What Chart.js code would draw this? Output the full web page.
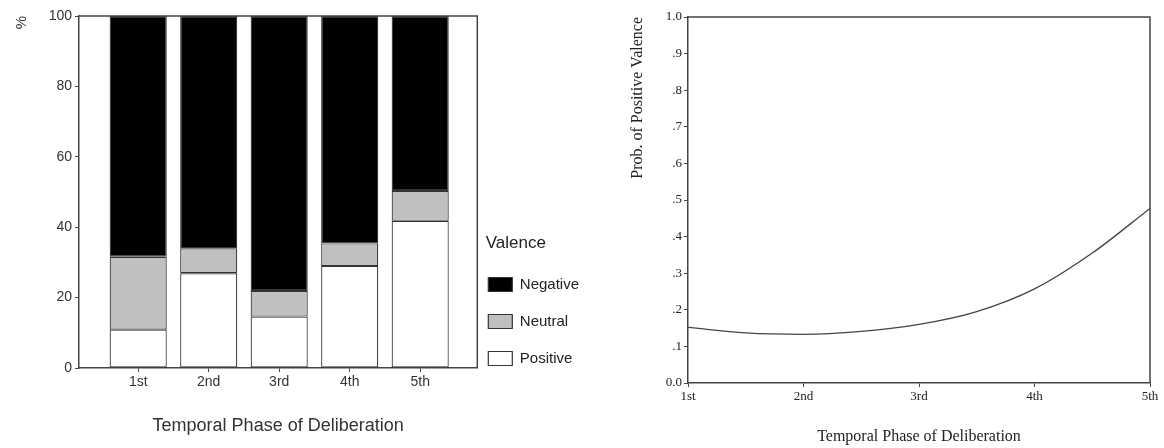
<!DOCTYPE html>
<html><head><meta charset="utf-8">
<script src="https://cdn.jsdelivr.net/npm/chart.js@4.4.0/dist/chart.umd.min.js"></script>
<style>
html,body{margin:0;padding:0;background:#fff;}
#wrap{position:relative;width:1164px;height:448px;overflow:hidden;}
#left{position:absolute;left:0;top:0;width:600px;height:448px;}
#right{position:absolute;left:600px;top:0;width:564px;height:448px;}
</style></head><body>
<div id="wrap"><div id="left"><canvas id="c1"></canvas></div><div id="right"><canvas id="c2"></canvas></div></div>
<script>
// ---- data ----
const categories = ['1st', '2nd', '3rd', '4th', '5th'];
const positive = [10.9, 26.9, 14.6, 29.0, 41.8];
const neutral  = [20.7, 7.1, 7.3, 6.4, 8.5];
const negative = [68.4, 66.0, 78.1, 64.6, 49.7];
const pctTicks = [0, 20, 40, 60, 80, 100];

const phaseX = [1, 1.5, 2, 2.5, 3, 3.5, 4, 4.5, 5];
const probPositive = [0.152, 0.137, 0.133, 0.141, 0.160, 0.195, 0.257, 0.355, 0.477];
const probTickLabels = ['0.0', '.1', '.2', '.3', '.4', '.5', '.6', '.7', '.8', '.9', '1.0'];

// ---- styles ----
const AX = '#444';
const sans = '"Liberation Sans", Arial, sans-serif';
const serif = '"Liberation Serif", "Times New Roman", serif';

const framePlugin = {
  id: 'frame',
  afterDatasetsDraw(chart) {
    const a = chart.chartArea, ctx = chart.ctx;
    ctx.save();
    ctx.strokeStyle = AX; ctx.lineWidth = 1.5;
    ctx.beginPath();
    ctx.moveTo(a.left, a.top); ctx.lineTo(a.right, a.top); ctx.lineTo(a.right, a.bottom);
    ctx.stroke();
    ctx.restore();
  }
};

const legendPlace = {
  id: 'legendPlace',
  afterLayout(chart) {
    const l = chart.legend; if (!l) return;
    const a = chart.chartArea;
    const newBottom = a.bottom + 20;
    const shift = newBottom - l.bottom;
    l.top += shift; l.bottom += shift;
    l.left = a.right - 11; l.width = 99; l.right = chart.width;
  }
};

const mk = (arr) => arr.map((v, i) => ({x: i, y: v}));

new Chart(document.getElementById('c1'), {
  type: 'bar',
  data: {
    datasets: [
      {label: 'Positive', data: mk(positive), backgroundColor: '#ffffff', borderColor: '#333', borderWidth: 1.2, borderSkipped: false},
      {label: 'Neutral',  data: mk(neutral),  backgroundColor: '#c0c0c0', borderColor: '#333', borderWidth: 1.2, borderSkipped: false},
      {label: 'Negative', data: mk(negative), backgroundColor: '#000000', borderColor: '#333', borderWidth: 1.2, borderSkipped: false}
    ]
  },
  options: {
    responsive: true, maintainAspectRatio: false, animation: false, devicePixelRatio: 1,
    categoryPercentage: 0.9, barPercentage: 0.9,
    layout: {padding: {top: 16, left: 0, right: 0, bottom: 0}},
    scales: {
      x: {
        type: 'linear', stacked: true, offset: false, min: -0.84, max: 4.81,
        afterBuildTicks: s => { s.ticks = categories.map((c, i) => ({value: i})); },
        afterFit: s => { s.height = 80; },
        grid: {display: true, drawOnChartArea: false, drawTicks: true, tickLength: 4, color: AX, offset: false},
        border: {display: true, color: AX, width: 1.5},
        ticks: {callback: (v) => categories[v], font: {family: sans, size: 14}, color: '#333', padding: 2, maxRotation: 0, autoSkip: false},
        title: {display: true, text: 'Temporal Phase of Deliberation', font: {family: sans, size: 18}, color: '#333', padding: {top: 0, bottom: 11}}
      },
      y: {
        stacked: true, min: 0, max: 100,
        afterBuildTicks: s => { s.ticks = pctTicks.map(v => ({value: v})); },
        afterFit: s => { s.width = 79; },
        grid: {display: true, drawOnChartArea: false, drawTicks: true, tickLength: 4, color: AX},
        border: {display: true, color: AX, width: 1.5},
        ticks: {font: {family: sans, size: 14}, color: '#333', padding: 3},
        title: {display: true, text: '%', align: 'end', font: {family: sans, size: 15}, color: '#333', padding: {top: 13, bottom: 0}}
      }
    },
    plugins: {
      legend: {
        position: 'right', align: 'end', reverse: true,
        title: {display: true, text: 'Valence', position: 'center', font: {family: sans, size: 17}, color: '#222', padding: 0},
        labels: {boxWidth: 24, boxHeight: 14, padding: 22, font: {family: sans, size: 15}, color: '#222'}
      },
      tooltip: {enabled: false}
    }
  },
  plugins: [framePlugin, legendPlace]
});

new Chart(document.getElementById('c2'), {
  type: 'line',
  data: {
    datasets: [{
      label: 'Prob. of Positive Valence',
      data: phaseX.map((x, i) => ({x: x, y: probPositive[i]})),
      borderColor: '#444', borderWidth: 1.3, pointRadius: 0, fill: false,
      cubicInterpolationMode: 'monotone'
    }]
  },
  options: {
    responsive: true, maintainAspectRatio: false, animation: false, devicePixelRatio: 1,
    layout: {padding: {top: 17, left: 0, right: 14, bottom: 0}},
    scales: {
      x: {
        type: 'linear', min: 1, max: 5,
        afterBuildTicks: s => { s.ticks = categories.map((c, i) => ({value: i + 1})); },
        afterFit: s => { s.height = 65; },
        grid: {display: true, drawOnChartArea: false, drawTicks: true, tickLength: 4, color: AX},
        border: {display: true, color: AX, width: 1.5},
        ticks: {callback: (v) => categories[v - 1], font: {family: serif, size: 13}, color: '#222', padding: 2, maxRotation: 0, autoSkip: false},
        title: {display: true, text: 'Temporal Phase of Deliberation', font: {family: serif, size: 16}, color: '#222', padding: {top: 0, bottom: 2}}
      },
      y: {
        type: 'linear', min: 0, max: 1,
        afterBuildTicks: s => { s.ticks = probTickLabels.map((t, i) => ({value: i / 10})); },
        afterFit: s => { s.width = 88; },
        grid: {display: true, drawOnChartArea: false, drawTicks: true, tickLength: 4, color: AX},
        border: {display: true, color: AX, width: 1.5},
        ticks: {callback: (v, i) => probTickLabels[i], font: {family: serif, size: 13}, color: '#222', padding: 2},
        title: {display: true, text: 'Prob. of Positive Valence', align: 'end', font: {family: serif, size: 16}, color: '#222', padding: {top: 28, bottom: 0}}
      }
    },
    plugins: {legend: {display: false}, tooltip: {enabled: false}}
  },
  plugins: [framePlugin]
});
</script>
</body></html>
